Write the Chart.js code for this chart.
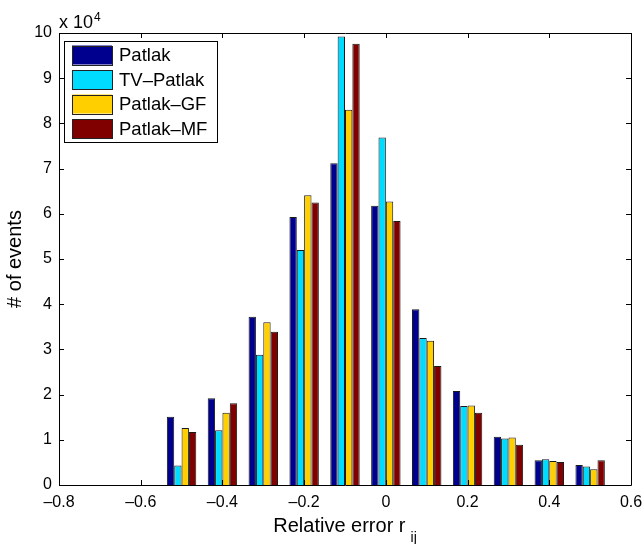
<!DOCTYPE html>
<html>
<head>
<meta charset="utf-8">
<script src="https://cdn.jsdelivr.net/npm/chart.js@4.4.1/dist/chart.umd.min.js"></script>
<style>
  body { margin: 0; background: #fff; }
  #wrap { width: 644px; height: 544px; }
</style>
</head>
<body>
<div id="wrap"><canvas id="myHistChart"></canvas></div>
<script>
// bin centres of the relative error histogram
const binCenters = [-0.5, -0.4, -0.3, -0.2, -0.1, 0, 0.1, 0.2, 0.3, 0.4, 0.5];

// # of events per bin, one array per method
const patlak   = [15100, 19200, 37200, 59300, 71200, 61800, 38900, 20800, 10700, 5500, 4400];
const tvPatlak = [4300, 12100, 28800, 52000, 99200, 76900, 32500, 17500, 10300, 5700, 4100];
const patlakGF = [12600, 16000, 36000, 64100, 83000, 62700, 31900, 17600, 10500, 5300, 3500];
const patlakMF = [11700, 18100, 33900, 62500, 97600, 58400, 26300, 16000, 8900, 5100, 5500];

const seriesNames = ['Patlak', 'TV\u2013Patlak', 'Patlak\u2013GF', 'Patlak\u2013MF'];
const xTicks = [-0.8, -0.6, -0.4, -0.2, 0, 0.2, 0.4, 0.6];
const yTicks = [0, 1, 2, 3, 4, 5, 6, 7, 8, 9, 10];

const colors = ['#00008f', '#00dcff', '#ffcf00', '#800000'];
const FONT = 'Liberation Sans, Arial, Helvetica, sans-serif';

function pts(arr) {
  return arr.map((v, i) => ({ x: binCenters[i], y: v }));
}

function fmtX(v) {
  if (Math.abs(v) < 1e-9) return '0';
  return (v < 0 ? '\u2013' : '') + Math.abs(v).toFixed(1);
}

// box, inward ticks, legend, x label and exponent note, matlab style
const matlabAxes = {
  id: 'matlabAxes',
  afterDraw(chart) {
    const c = chart.ctx;
    const a = chart.chartArea;
    const xs = chart.scales.x, ys = chart.scales.y;
    c.save();
    c.strokeStyle = '#000';
    c.lineWidth = 1;
    c.beginPath();
    c.rect(Math.round(a.left) + 0.5, Math.round(a.top) + 0.5,
           Math.round(a.right - a.left), Math.round(a.bottom - a.top));
    c.stroke();

    c.beginPath();
    xs.ticks.forEach((t, i) => {
      const px = Math.round(xs.getPixelForTick(i)) + 0.5;
      c.moveTo(px, a.bottom); c.lineTo(px, a.bottom - 5);
      c.moveTo(px, a.top); c.lineTo(px, a.top + 5);
    });
    ys.ticks.forEach((t, i) => {
      const py = Math.round(ys.getPixelForTick(i)) + 0.5;
      c.moveTo(a.left, py); c.lineTo(a.left + 5, py);
      c.moveTo(a.right, py); c.lineTo(a.right - 5, py);
    });
    c.stroke();

    // x 10^4
    c.fillStyle = '#000';
    c.textBaseline = 'alphabetic';
    c.textAlign = 'left';
    c.font = '18px ' + FONT;
    c.fillText('x 10', a.left, 28);
    const w10 = c.measureText('x 10').width;
    c.font = '12px ' + FONT;
    c.fillText('4', a.left + w10 + 1, 21);

    // x axis title with subscript
    c.font = '20px ' + FONT;
    const main = 'Relative error r';
    const wm = c.measureText(main).width;
    c.font = '14px ' + FONT;
    const ws = c.measureText('ij').width;
    const x0 = (a.left + a.right) / 2 - (wm + 5 + ws) / 2;
    c.font = '20px ' + FONT;
    c.fillText(main, x0, 532);
    c.font = '14px ' + FONT;
    c.fillText('ij', x0 + wm + 5, 542);

    // legend
    const lx = a.left + 5, ly = a.top + 8;
    c.font = '18.5px ' + FONT;
    let tw = 0;
    chart.data.datasets.forEach(d => { tw = Math.max(tw, c.measureText(d.label).width); });
    const lw = 8 + 40 + 7 + tw + 10, lh = 101;
    c.fillStyle = '#fff';
    c.fillRect(lx, ly, lw, lh);
    c.strokeStyle = '#000';
    c.strokeRect(Math.round(lx) + 0.5, Math.round(ly) + 0.5, Math.round(lw), lh);
    chart.data.datasets.forEach((d, i) => {
      const cy = ly + 14 + i * 24.5;
      c.fillStyle = d.backgroundColor;
      c.fillRect(lx + 8, cy - 9.5, 40, 19);
      c.strokeStyle = '#222';
      c.strokeRect(Math.round(lx + 8) + 0.5, Math.round(cy - 9.5) + 0.5, 40, 19);
      c.fillStyle = '#000';
      c.textBaseline = 'middle';
      c.fillText(d.label, lx + 55, cy + 1);
    });
    c.restore();
  }
};

const ctx = document.getElementById('myHistChart');
const allSeries = [patlak, tvPatlak, patlakGF, patlakMF];

const myHistChart = new Chart(ctx, {
  type: 'bar',
  data: {
    datasets: allSeries.map((s, i) => ({
      label: seriesNames[i],
      data: pts(s),
      backgroundColor: colors[i],
      borderColor: '#1a1a1a',
      borderWidth: 1,
      categoryPercentage: 0.72,
      barPercentage: 1.0
    }))
  },
  options: {
    responsive: true,
    maintainAspectRatio: false,
    animation: false,
    layout: { padding: { top: 33, right: 13, bottom: 0, left: 0 } },
    plugins: {
      legend: { display: false },
      tooltip: { enabled: false }
    },
    scales: {
      x: {
        type: 'linear',
        min: -0.8,
        max: 0.6,
        offset: false,
        grid: { display: false, drawTicks: false, offset: false },
        border: { display: false },
        afterBuildTicks: (s) => { s.ticks = xTicks.map(v => ({ value: v })); },
        afterFit: (s) => { s.height = 59; s.paddingLeft = 0; s.paddingRight = 0; },
        ticks: {
          color: '#000',
          font: { family: FONT, size: 16 },
          padding: 8,
          maxRotation: 0,
          autoSkip: false,
          callback: (v) => fmtX(v)
        }
      },
      y: {
        min: 0,
        max: 100000,
        grid: { display: false, drawTicks: false },
        border: { display: false },
        afterBuildTicks: (s) => { s.ticks = yTicks.map(v => ({ value: v * 10000 })); },
        afterFit: (s) => { s.width = 59; },
        title: {
          display: true,
          text: '# of events',
          color: '#000',
          font: { family: FONT, size: 20 },
          padding: { top: 3, bottom: 0 }
        },
        ticks: {
          color: '#000',
          font: { family: FONT, size: 16 },
          padding: 7,
          callback: (v) => String(Math.round(v / 10000))
        }
      }
    }
  },
  plugins: [matlabAxes]
});
</script>
</body>
</html>
